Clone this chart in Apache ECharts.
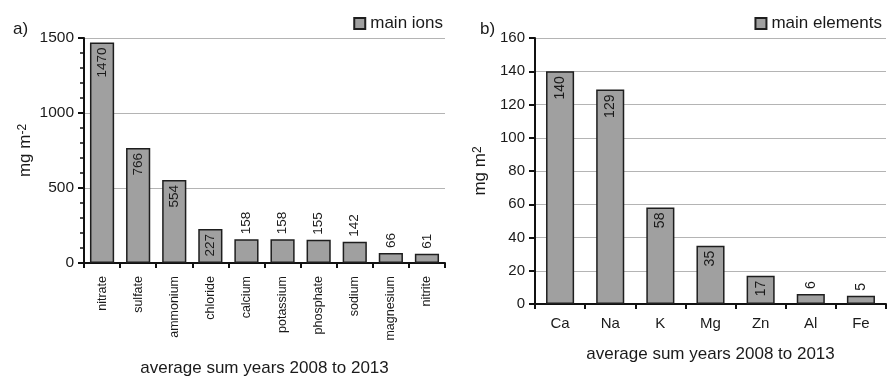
<!DOCTYPE html>
<html><head><meta charset="utf-8">
<script src="https://cdn.jsdelivr.net/npm/echarts@6/dist/echarts.min.js"></script>
<style>html,body{margin:0;padding:0;background:#fff}#c{width:889px;height:376px}</style>
</head><body><div id="c"></div>
<script>
const ionCategories = ['nitrate','sulfate','ammonium','chloride','calcium','potassium','phosphate','sodium','magnesium','nitrite'];
const ionValues = [1470,766,554,227,158,158,155,142,66,61];
const ionInside = [true,true,true,true,false,false,false,false,false,false];
const elemCategories = ['Ca','Na','K','Mg','Zn','Al','Fe'];
const elemValues = [140,129,58,35,17,6,5];
const elemInside = [true,true,true,true,true,false,false];
const xTitle = 'average sum years 2008 to 2013';

const FONT = 'Liberation Sans, Arial, sans-serif';
const TXT = '#1a1a1a';
const barFill = '#a0a0a0';
const barEdge = '#1e1e1e';

function mkData(vals, inside, dist){
  return vals.map((v,i)=>({
    value:v,
    label: inside[i]
      ? {position:'insideTop', rotate:90, align:'right', verticalAlign:'middle', distance:dist}
      : {position:'top', rotate:90, align:'left', verticalAlign:'middle', distance:dist}
  }));
}
const plain = v => String(v);

const chart = echarts.init(document.getElementById('c'), null, {renderer:'canvas'});
chart.setOption({
  animation:false,
  textStyle:{fontFamily:FONT, color:TXT},
  title:[
    {text:'a)', left:8, top:16, textStyle:{fontSize:17, fontWeight:'normal', color:TXT, fontFamily:FONT}},
    {text:'b)', left:475, top:16, textStyle:{fontSize:17, fontWeight:'normal', color:TXT, fontFamily:FONT}}
  ],
  legend:[
    {data:['main ions'], right:441, top:10, icon:'rect', itemWidth:11, itemHeight:11, itemGap:6,
     textStyle:{fontSize:17, color:TXT, fontFamily:FONT}},
    {data:['main elements'], right:2, top:10, icon:'rect', itemWidth:11, itemHeight:11, itemGap:6,
     textStyle:{fontSize:17, color:TXT, fontFamily:FONT}}
  ],
  grid:[
    {left:84, top:38, right:444, bottom:113, outerBoundsMode:'none', containLabel:false},
    {left:535, top:38, right:3, bottom:72, outerBoundsMode:'none', containLabel:false}
  ],
  xAxis:[
    {type:'category', gridIndex:0, data:ionCategories,
     axisLine:{lineStyle:{color:'#111', width:2}},
     axisTick:{show:true, length:5, lineStyle:{color:'#111', width:2}},
     axisLabel:{rotate:90, fontSize:12.5, color:TXT, margin:13, fontFamily:FONT},
     name:xTitle, nameLocation:'middle', nameGap:97,
     nameTextStyle:{fontSize:17, color:TXT, fontFamily:FONT}},
    {type:'category', gridIndex:1, data:elemCategories,
     axisLine:{lineStyle:{color:'#111', width:2}},
     axisTick:{show:true, length:5, lineStyle:{color:'#111', width:2}},
     axisLabel:{fontSize:15, color:TXT, margin:12, fontFamily:FONT},
     name:xTitle, nameLocation:'middle', nameGap:42,
     nameTextStyle:{fontSize:17, color:TXT, fontFamily:FONT}}
  ],
  yAxis:[
    {type:'value', gridIndex:0, min:0, max:1500, interval:500,
     axisLine:{show:true, lineStyle:{color:'#111', width:2}},
     axisTick:{show:true, length:6, lineStyle:{color:'#111', width:2}},
     minorTick:{show:true, splitNumber:5, length:4, lineStyle:{color:'#111', width:1.5}},
     splitLine:{lineStyle:{color:'#b4b4b4', width:1}},
     axisLabel:{fontSize:15.5, color:TXT, margin:10, fontFamily:FONT, formatter:plain},
     name:'{a|mg m}{s|-2}', nameLocation:'middle', nameGap:50, nameRotate:90,
     nameTextStyle:{rich:{a:{fontSize:17, color:TXT, fontFamily:FONT}, s:{fontSize:12, color:TXT, fontFamily:FONT, verticalAlign:'top'}}}},
    {type:'value', gridIndex:1, min:0, max:160, interval:20,
     axisLine:{show:true, lineStyle:{color:'#111', width:2}},
     axisTick:{show:true, length:6, lineStyle:{color:'#111', width:2}},
     splitLine:{lineStyle:{color:'#b4b4b4', width:1}},
     axisLabel:{fontSize:15, color:TXT, margin:10, fontFamily:FONT, formatter:plain},
     name:'{a|mg m}{s|2}', nameLocation:'middle', nameGap:46, nameRotate:90,
     nameTextStyle:{rich:{a:{fontSize:17, color:TXT, fontFamily:FONT}, s:{fontSize:12, color:TXT, fontFamily:FONT, verticalAlign:'top'}}}}
  ],
  series:[
    {name:'main ions', type:'bar', xAxisIndex:0, yAxisIndex:0, barWidth:'67%',
     itemStyle:{color:barFill, borderColor:barEdge, borderWidth:1.5},
     label:{show:true, fontSize:13.5, color:TXT, fontFamily:FONT},
     data:mkData(ionValues, ionInside, 5)},
    {name:'main elements', type:'bar', xAxisIndex:1, yAxisIndex:1, barWidth:'56%',
     itemStyle:{color:barFill, borderColor:barEdge, borderWidth:1.5},
     label:{show:true, fontSize:14, color:TXT, fontFamily:FONT},
     data:mkData(elemValues, elemInside, 5)}
  ]
});
</script></body></html>
